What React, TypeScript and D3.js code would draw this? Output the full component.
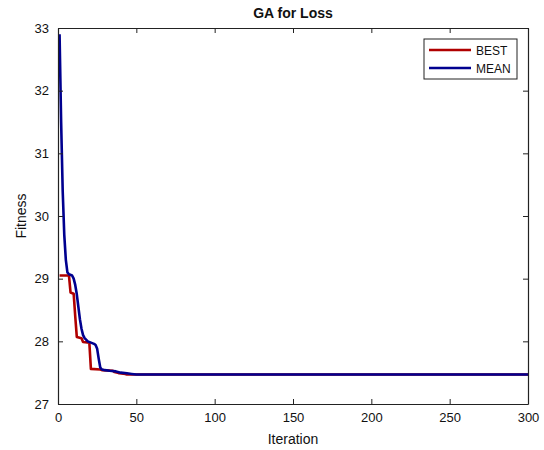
import React, { useEffect, useRef } from 'react';
import * as d3 from 'd3';

// iteration numbers and fitness values
const bestIter = [1, 7, 8, 10, 11, 12, 15, 16, 20, 21, 27, 28, 35, 36, 38, 39, 43, 44, 300];
const bestVal = [29.05, 29.05, 28.78, 28.76, 28.4, 28.07, 28.05, 27.99, 27.98, 27.56, 27.55, 27.54, 27.53, 27.51, 27.5, 27.49, 27.48, 27.47, 27.47];

const meanIter = [1, 2, 3, 4, 5, 6, 7, 9, 10, 11, 12, 13, 14, 15, 16, 17, 19, 21, 23, 24, 25, 26, 27, 28, 30, 33, 37, 40, 44, 47, 50, 300];
const meanVal = [32.9, 31.5, 30.4, 29.7, 29.3, 29.1, 29.07, 29.05, 29.0, 28.9, 28.75, 28.55, 28.35, 28.2, 28.1, 28.05, 28.0, 27.98, 27.96, 27.94, 27.88, 27.72, 27.58, 27.55, 27.54, 27.53, 27.52, 27.5, 27.49, 27.48, 27.47, 27.47];

const xTicks = [0, 50, 100, 150, 200, 250, 300];
const yTicks = [27, 28, 29, 30, 31, 32, 33];

const App = () => {
  const svgRef = useRef(null);

  useEffect(() => {
    const svg = d3.select(svgRef.current);
    svg.selectAll('*').remove();
    const margin = { top: 28, right: 16, bottom: 46, left: 58 };
    const width = 544;
    const height = 450;
    const font = 'Arial, "Liberation Sans", sans-serif';

    const x = d3.scaleLinear().domain([0, 300]).range([margin.left, width - margin.right]);
    const y = d3.scaleLinear().domain([27, 33]).range([height - margin.bottom, margin.top]);

    svg.append('rect').attr('width', width).attr('height', height).attr('fill', '#fff');

    const line = d3.line().x(d => x(d[0])).y(d => y(d[1]));
    const best = bestIter.map((it, i) => [it, bestVal[i]]);
    const mean = meanIter.map((it, i) => [it, meanVal[i]]);

    const plot = svg.append('g');
    plot.append('path').datum(best).attr('d', line).attr('fill', 'none')
      .attr('stroke', '#b00000').attr('stroke-width', 2.6).attr('stroke-linejoin', 'round');
    plot.append('path').datum(mean).attr('d', line).attr('fill', 'none')
      .attr('stroke', '#00008f').attr('stroke-width', 2.6).attr('stroke-linejoin', 'round');

    // axes with inward ticks, mirrored on top and right
    const bottom = svg.append('g').attr('transform', `translate(0,${height - margin.bottom})`)
      .call(d3.axisBottom(x).tickValues(xTicks).tickSizeInner(-5).tickSizeOuter(0).tickPadding(9));
    const left = svg.append('g').attr('transform', `translate(${margin.left},0)`)
      .call(d3.axisLeft(y).tickValues(yTicks).tickFormat(d3.format('d')).tickSizeInner(-5).tickSizeOuter(0).tickPadding(9));
    const top = svg.append('g').attr('transform', `translate(0,${margin.top})`)
      .call(d3.axisTop(x).tickValues(xTicks).tickSizeInner(-5).tickSizeOuter(0).tickFormat(() => ''));
    const right = svg.append('g').attr('transform', `translate(${width - margin.right},0)`)
      .call(d3.axisRight(y).tickValues(yTicks).tickSizeInner(-5).tickSizeOuter(0).tickFormat(() => ''));

    [bottom, left, top, right].forEach(g => {
      g.selectAll('path').attr('stroke', '#222').attr('stroke-width', 1.2);
      g.selectAll('line').attr('stroke', '#222');
      g.selectAll('text').attr('font-family', font).attr('font-size', 13).attr('fill', '#111');
    });

    svg.append('text').attr('x', (margin.left + width - margin.right) / 2).attr('y', 18)
      .attr('text-anchor', 'middle').attr('font-family', font).attr('font-size', 14)
      .attr('font-weight', 'bold').attr('fill', '#111').text('GA for Loss');

    svg.append('text').attr('x', (margin.left + width - margin.right) / 2).attr('y', 444)
      .attr('text-anchor', 'middle').attr('font-family', font).attr('font-size', 14)
      .attr('fill', '#111').text('Iteration');

    svg.append('text').attr('transform', `translate(26,${(margin.top + height - margin.bottom) / 2}) rotate(-90)`)
      .attr('text-anchor', 'middle').attr('font-family', font).attr('font-size', 14)
      .attr('fill', '#111').text('Fitness');

    // legend
    const legend = svg.append('g').attr('transform', 'translate(424,39)');
    legend.append('rect').attr('width', 93).attr('height', 40).attr('fill', '#fff')
      .attr('stroke', '#222').attr('stroke-width', 1);
    const items = [{ name: 'BEST', color: '#b00000' }, { name: 'MEAN', color: '#00008f' }];
    items.forEach((d, i) => {
      const yy = 11 + i * 18;
      legend.append('line').attr('x1', 5).attr('x2', 47).attr('y1', yy).attr('y2', yy)
        .attr('stroke', d.color).attr('stroke-width', 2.6);
      legend.append('text').attr('x', 52).attr('y', yy + 4.5).attr('font-family', font)
        .attr('font-size', 12).attr('fill', '#111').text(d.name);
    });
  }, []);

  return <svg ref={svgRef} width={544} height={450} style={{ display: 'block', position: 'absolute', left: 0, top: 0 }} />;
};

export default App;
